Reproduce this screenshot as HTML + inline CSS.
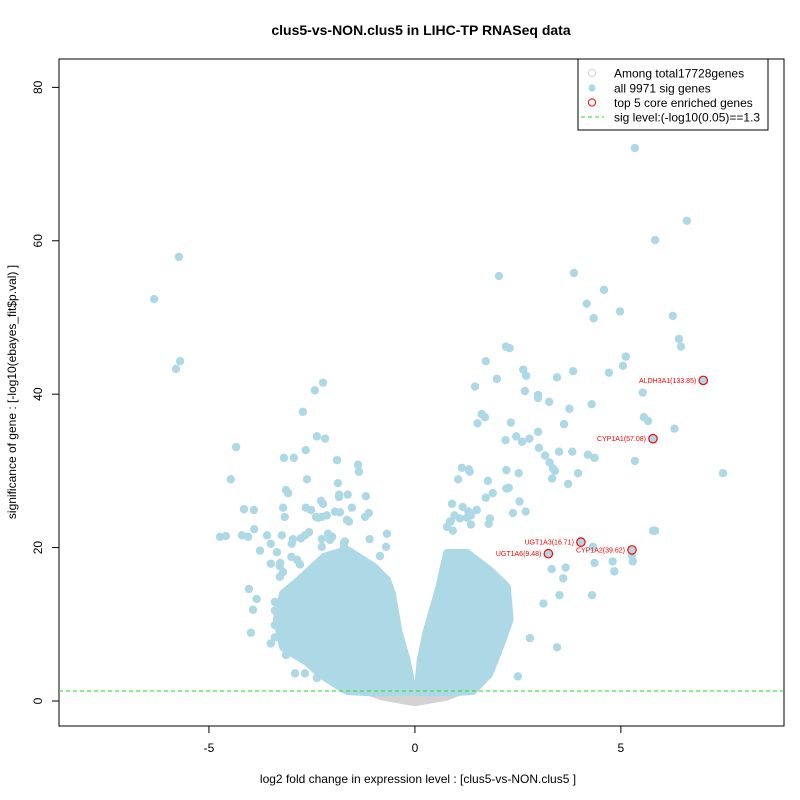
<!DOCTYPE html>
<html><head><meta charset="utf-8"><style>
body{margin:0;background:#fff;}
svg{display:block;font-family:"Liberation Sans",Arial,sans-serif;}
</style></head><body>
<svg id="chart" width="800" height="800" viewBox="0 0 800 800">
<rect x="0" y="0" width="800" height="800" fill="#fff"/>
<text x="421" y="35" text-anchor="middle" font-size="14" font-weight="bold">clus5-vs-NON.clus5 in LIHC-TP RNASeq data</text>
<text x="418" y="783" text-anchor="middle" font-size="12">log2 fold change in expression level : [clus5-vs-NON.clus5 ]</text>
<text transform="translate(16,392) rotate(-90)" text-anchor="middle" font-size="12">significance of gene : [-log10(ebayes_fit$p.val) ]</text>
<g id="axes"></g>
<g id="marks"></g>
<g id="legend">
<rect x="578" y="59" width="190" height="71" fill="#fff" stroke="#000" stroke-width="1"/>
<circle cx="592" cy="73" r="3.6" fill="none" stroke="#d3d3d3"/>
<text x="614" y="77.5" font-size="12">Among total17728genes</text>
<circle cx="592" cy="88" r="3.6" fill="#add8e6"/>
<text x="614" y="92.5" font-size="12">all 9971 sig genes</text>
<circle cx="592" cy="102.5" r="3.6" fill="none" stroke="#ff0000"/>
<text x="614" y="107" font-size="12">top 5 core enriched genes</text>
<line x1="581" y1="117" x2="604" y2="117" stroke="#22dd22" stroke-dasharray="4,3"/>
<text x="614" y="121.5" font-size="12">sig level:(-log10(0.05)==1.3</text>
</g>
</svg>
<script>
const xTicks=[-5,0,5];
const yTicks=[0,20,40,60,80];
const sigLevel=1.3;
const greyEnvX=[-1.4,-0.8,0,0.8,1.3];
const greyEnvY=[1.3,0.2,-0.55,0.2,1.3];
const leftEnvX=[-0.05,-0.2,-0.4,-0.56,-0.68,-1.0,-1.65,-2.2,-2.8,-3.2,-3.35,-3.2,-2.6,-2.3,-1.8,-1.65,-1.0];
const leftEnvY=[1.2,5.3,9,14,15.8,17.5,19.7,18.8,15.8,14,10.6,7,5,3.5,1.8,1.3,1.1];
const rightEnvX=[0.07,0.14,0.28,0.6,0.78,1.26,1.82,2.23,2.3,2.06,1.8,1.4,0.8];
const rightEnvY=[1.2,5.3,8.9,14.9,19.3,19.3,17,14.9,10.6,7,3.5,1.3,1.1];
const sigX=[5.34,6.6,5.83,3.86,2.04,4.59,4.17,4.98,4.34,6.26,6.41,6.46,5.12,5.05,2.21,2.3,1.72,4.71,2.63,2.7,3.84,3.45,1.99,1.46,2.67,5.53,2.99,2.99,3.26,4.29,3.75,1.62,1.7,1.52,2.33,3.62,5.56,5.66,6.3,7.48,5.83,5.34,4.36,4.2,3.82,3.5,3.35,3.4,3.96,3.72,5.78,4.03,5.27,3.24,5.29,4.8,4.36,3.66,3.32,4.84,3.6,3.51,4.3,3.12,3.45,2.79,2.5,4.32,2.46,2.2,2.6,2.99,2.78,3.01,3.16,3.27,3.33,2.52,2.22,2.28,1.89,1.72,1.5,1.79,1.05,1.33,1.14,1.31,1.77,2.22,2.54,2.69,2.38,1.82,0.9,1.16,0.85,1.26,1.36,1.36,1.09,1.3,0.96,0.87,0.78,0.92,
-6.33,-5.73,-5.7,-5.8,-2.23,-2.43,-2.72,-4.34,-2.38,-2.18,-2.65,-3.18,-2.94,-4.47,-1.89,-1.38,-1.36,-2.62,-3.13,-3.08,-1.87,-1.84,-1.84,-1.63,-1.19,-2.28,-2.23,-1.53,-1.12,-1.21,-4.15,-3.91,-3.2,-3.16,-2.65,-2.52,-2.4,-2.35,-2.26,-2.14,-1.94,-1.82,-1.65,-1.6,-3.9,-4.73,-4.59,-4.05,-3.76,-4.2,-3.59,-3.5,-3.23,-2.96,-2.99,-2.77,-2.67,-2.57,-2.26,-2.26,-2.11,-2.06,-1.72,-2.01,-1.7,-1.72,-1.1,-0.68,-0.7,-0.85,-3.5,-3.35,-3.27,-3.0,-2.86,-2.79,-4.03,-3.84,-3.93,-3.98,-3.4,-3.4,-3.28,-3.2,-3.28,-3.35,-3.3,-3.4,-3.5,-3.4,-3.13,-2.91,-2.67,-2.38,-2.21,-1.99];
const sigY=[72.1,62.6,60.1,55.8,55.4,53.6,51.8,50.8,49.9,50.2,47.2,46.2,44.9,43.7,46.2,46.0,44.3,42.8,43.2,42.4,43.0,42.2,42.0,41.0,40.4,40.2,39.9,39.5,39.0,38.7,38.1,37.4,37.0,36.2,36.3,36.1,37.0,36.5,35.5,29.7,22.2,31.3,31.7,32.1,32.5,32.5,30.3,30.0,29.7,28.3,22.2,20.9,19.0,19.2,18.2,18.2,18.0,17.4,17.2,16.9,16.0,13.8,13.8,12.7,7.0,8.2,3.2,20.1,34.5,34.0,33.8,35.1,34.2,33.0,32.0,31.1,29.0,29.7,30.1,27.8,27.1,26.5,24.9,23.1,28.9,29.9,30.4,30.2,28.7,27.7,26.0,24.7,24.5,23.8,25.7,25.3,23.4,23.9,24.2,23.0,23.8,24.7,24.2,23.4,22.7,22.2,
52.4,57.9,44.3,43.3,41.5,40.5,37.7,33.1,34.5,34.2,32.7,31.7,31.7,28.9,31.4,30.8,29.9,28.9,27.5,27.1,28.4,26.9,26.6,26.9,26.7,26.1,25.7,25.2,24.5,24.0,25.0,24.9,25.2,24.0,25.2,24.9,24.0,23.9,24.0,24.2,24.7,24.6,23.6,23.4,22.4,21.4,21.5,21.4,19.6,21.6,21.6,20.5,21.6,21.1,20.5,21.2,21.6,22.0,20.1,21.1,21.8,21.0,20.1,21.4,20.8,20.6,21.1,21.8,20.1,18.9,17.9,19.4,18.0,18.8,18.4,17.8,14.6,13.3,11.9,8.9,12.9,11.8,17.6,16.8,16.2,11.5,10.9,9.9,7.5,8.3,6.0,3.6,3.6,3.0,3.6,5.9];
const topX=[7.0,5.78,4.03,5.27,3.24];
const topY=[41.8,34.2,20.7,19.7,19.2];
const topLabels=["ALDH3A1(133.85)","CYP1A1(57.08)","UGT1A3(16.71)","CYP1A2(39.62)","UGT1A6(9.48)"];

const X0=59,X1=784,Y0=59,Y1=726;
const xMin=-8.64,xMax=8.96,yMin=-3.26,yMax=83.7;
function sx(v){return X0+(v-xMin)/(xMax-xMin)*(X1-X0);}
function sy(v){return Y1-(v-yMin)/(yMax-yMin)*(Y1-Y0);}
const NS='http://www.w3.org/2000/svg';
function mk(tag,attrs,parent){const e=document.createElementNS(NS,tag);for(const k in attrs)e.setAttribute(k,attrs[k]);parent.appendChild(e);return e;}
const axes=document.getElementById('axes'),marks=document.getElementById('marks');

let f=mk('rect',{x:X0,y:Y0,width:X1-X0,height:Y1-Y0,fill:'none',stroke:'#000','stroke-width':1},axes);


xTicks.forEach(t=>{
  let l=mk('line',{x1:sx(t),x2:sx(t),y1:Y1,y2:Y1+7,stroke:'#000'},axes);
  
  
  let tx=mk('text',{x:sx(t),y:Y1+26,'text-anchor':'middle','font-size':12},axes);
  tx.textContent=t;
  
  
});
yTicks.forEach(t=>{
  let l=mk('line',{x1:X0-7,x2:X0,y1:sy(t),y2:sy(t),stroke:'#000'},axes);
  
  
  let tx=mk('text',{transform:`translate(${X0-17},${sy(t)}) rotate(-90)`,'text-anchor':'middle','font-size':12},axes);
  tx.textContent=t;
  
  
});
function poly(xs,ys,col,name,sw){
  const pts=xs.map((v,i)=>sx(v)+','+sy(ys[i])).join(' ');
  let p=mk('polygon',{points:pts,fill:col,stroke:col,'stroke-width':sw,'stroke-linejoin':'round'},marks);
  
  
}
poly(greyEnvX,greyEnvY,'#d3d3d3','nonsig-gene-cloud',2);
poly(leftEnvX,leftEnvY,'#add8e6','down-gene-cloud',8);
poly(rightEnvX,rightEnvY,'#add8e6','up-gene-cloud',8);
sigX.forEach((v,i)=>{
  let c=mk('circle',{cx:sx(v),cy:sy(sigY[i]),r:4.2,fill:'#add8e6'},marks);
  
  
});
let sl=mk('line',{x1:X0,x2:X1,y1:sy(sigLevel),y2:sy(sigLevel),stroke:'#22dd22','stroke-dasharray':'4,3'},marks);


topX.forEach((v,i)=>{
  let c=mk('circle',{cx:sx(v),cy:sy(topY[i]),r:4.2,fill:'#add8e6',stroke:'#ff0000','stroke-width':1.2},marks);
  
  
  let t=mk('text',{x:sx(v)-7,y:sy(topY[i])+2.5,'text-anchor':'end','font-size':7,fill:'#ff0000'},marks);
  t.textContent=topLabels[i];
  
  
});
</script>
</body></html>
